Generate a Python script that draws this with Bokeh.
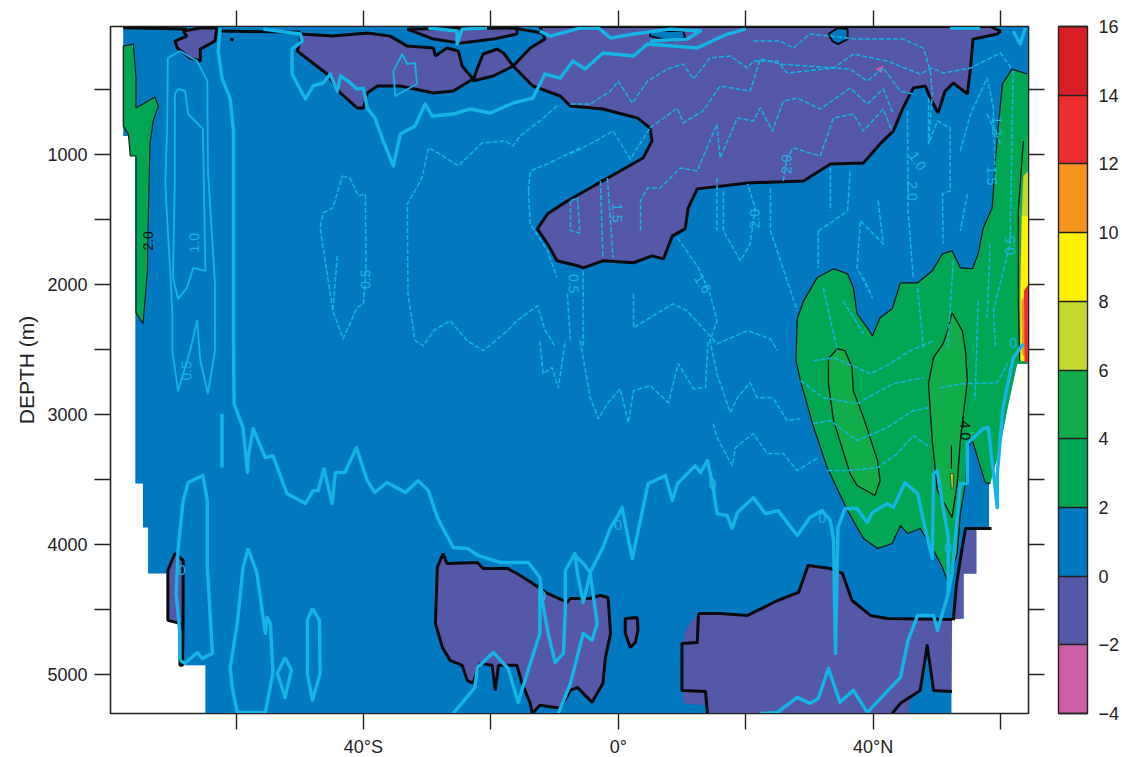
from bokeh.plotting import figure
from bokeh.models import (Range1d, FixedTicker, LinearAxis, ColorBar, LinearColorMapper,
                          ColumnDataSource)
from bokeh.core.properties import value
from bokeh.embed import file_html
from bokeh.resources import INLINE

# ---- scale ----
LEVELS = [-4, -2, 0, 2, 4, 6, 8, 10, 12, 14, 16]
PALETTE = ["#CC5FA5", "#5558A6", "#0079C1", "#00A651", "#12AD4B",
           "#C4D82E", "#FFF200", "#F7941E", "#EE2D30", "#D81F26"]
LAT_TICKS = [-60, -40, -20, 0, 20, 40, 60]
LAT_LABELS = {-60: "", -40: "40°S", -20: "", 0: "0°", 20: "", 40: "40°N", 60: ""}
DEPTH_TICKS = [500, 1000, 1500, 2000, 2500, 3000, 3500, 4000, 4500, 5000]
DEPTH_LABELS = {500: "", 1000: "1000", 1500: "", 2000: "2000", 2500: "", 3000: "3000",
                3500: "", 4000: "4000", 4500: "", 5000: "5000"}

# ---- filled regions (latitude, depth m) ----
ocean = [(-77.7,15),(64.4,15),(64.4,2611),(62.6,2611),(61.1,2950),(59.7,3303),(58.2,3534),(58.2,3872),
         (56.2,3872),(56.2,4226),(54.2,4226),(54.2,4572),(52.3,4572),(52.3,5304),(-64.8,5304),(-64.8,4933),
         (-68.8,4933),(-68.8,4587),(-70.3,4587),(-70.3,4226),(-73.8,4226),(-73.8,3872),(-74.6,3872),
         (-74.6,3534),(-75.8,3534),(-75.8,858),(-77.7,858)]
green_left = [(-77.7,166),(-76.1,150),(-75.7,412),(-75.7,642),(-72.7,558),(-72.2,627),(-73,742),(-73.5,919),
              (-73.8,1534),(-73.9,1896),(-74.6,2303),(-75.7,2219),(-75.7,1012),(-76.6,1012),(-76.9,842),(-77.7,781)]
purple_a = [(-68.3,50),(-65.6,27),(-63,27),(-63.3,127),(-65.6,189),(-65.6,281),(-67.2,258),(-69.2,181),(-69.6,127),(-67.7,89)]
purple_b = [(-49.9,73),(-44.8,89),(-39.4,65),(-35.8,89),(-33.1,166),(-29,181),(-28.7,242),(-26.9,181),(-25.1,204),
            (-24.5,319),(-22.8,419),(-25.9,512),(-29,527),(-34.2,473),(-37.8,473),(-39.4,527),(-40,642),(-41,642),
            (-43.6,527),(-45.7,381),(-50.4,204),(-49.9,127)]
purple_c = [(-22.8,435),(-22.1,335),(-21.2,227),(-19,189),(-18,219),(-16.5,319),(-19.6,396)]
purple_d = [(-33.1,35),(-29,112),(-24.8,143),(-19.6,112),(-15.9,73),(-15.9,27)]
purple_main = [(-16.5,319),(-13.8,181),(-11.5,112),(-12.3,15),(58.4,15),(60,50),(59.5,73),(55.7,112),(55.3,335),
               (54.8,535),(52.6,450),(51.3,512),(50.2,681),(49,566),(48.2,473),(46.3,489),(44.7,642),(43.2,819),
               (41.1,919),(38.5,1065),(33.3,1073),(29.1,1204),(20.3,1219),(12.4,1265),(11,1411),(10.5,1573),
               (8.5,1627),(7.1,1804),(5.3,1781),(2.4,1834),(-2.4,1819),(-5.5,1873),(-6.4,1857),(-9.6,1819),
               (-11.1,1688),(-12.7,1573),(-11.1,1457),(-8,1358),(-3.3,1227),(0.3,1127),(3.9,1027),(5.3,896),
               (5,796),(3,719),(-2.4,650),(-7.5,627),(-9.1,550),(-13.4,473)]
blue_lens = [(5,50),(10.2,50),(10.5,104),(8.2,127),(5,89)]
blue_dot = [(33,73),(34.4,27),(36,35),(36,112),(34.5,150),(33.6,127)]
pink_spot = [(40.3,343),(41.6,319),(41.4,373)]
purple_bottom = [(-27.5,4072),(-28.4,4180),(-28.7,4610),(-27.6,4795),(-26.4,4895),(-24.5,4933),(-23.7,5049),(-22.8,5072),
                 (-21.7,4918),(-19.8,4933),(-19.3,5126),(-18.8,4933),(-15.9,4933),(-15.1,5072),(-13.8,5226),(-13.5,5304),
                 (-12.3,5241),(-9.1,5264),(-7.5,5126),(-6.4,5103),(-4.1,5218),(-2.4,5072),(-2,4872),(-1.2,4687),
                 (-1.6,4411),(-2.8,4395),(-4.4,4418),(-7.5,4418),(-8,4449),(-11.1,4380),(-13.4,4303),(-15.9,4226),
                 (-17.4,4188),(-21.2,4188),(-22.1,4141),(-26.9,4149)]
purple_sliver = [(-70.7,4587),(-70.7,4203),(-69.6,4072),(-68.3,4126),(-68.3,4587),(-68.4,4933),(-68.8,4933),(-68.8,4610)]
purple_small = [(1.1,4572),(3,4565),(3.1,4664),(2.7,4757),(1.9,4795),(1.1,4687)]
purple_br_top = [(12.6,4534),(16,4534),(20.3,4549),(25,4434),(28.3,4372),(29.8,4165),(33.3,4188),(35.2,4226),
                 (36.7,4434),(39.6,4549),(42.2,4572),(52.4,4580)]
purple_br_rest = [(52.3,5134),(49.5,5134),(48.5,4780),(47.4,5126),(45.8,5203),(45.5,5304),(14,5304),(13.7,5241),
                  (10.2,5226),(10.4,4687),(11.3,4610)]
purple_stairs = [(54.8,3895),(56.2,3895),(56.2,4226),(54.2,4226),(54.2,4572),(52.4,4580),(53.1,4303),(54,4026)]
green_edge_a = [(28.1,2265),(29.1,2127),(31.2,1950),(33.8,1880),(36,1919),(36.9,2027),(37.5,2227),(39.1,2334),
                (39.9,2396),(41.1,2257),(43,2188),(44.3,1988),(47,1988),(49.3,1896),(50.9,1765),(52.4,1742),
                (53.7,1873),(55.6,1880),(56.5,1765),(57.3,1565),(58.7,1411),(59.2,1050),(59.7,765),(60.3,458),
                (61.8,343),(64.2,381)]
green_wall = [(64.4,381),(64.4,2611),(62.6,2611),(61.1,2950),(59.7,3303)]
green_edge_b = [(58.4,3534),(57.6,3526),(55.6,3203),(54.8,3257),(54.5,3534),(53.7,3765),(53.2,4072),(51.8,4303),
                (50.9,4180),(49.5,4049),(47.4,3880),(45.4,3918),(44.3,3857),(43,3995),(40.7,4034),(38.5,3957),
                (36,3742),(32.8,3411),(30.5,3073),(28.6,2742),(27.9,2588)]
lobe_a = [(34.4,2496),(35.6,2511),(36.7,2642),(36.9,2819),(38.5,3026),(40.7,3357),(41.1,3511),(40.3,3626),(37.5,3549),
          (36.4,3457),(33.8,3049),(33,2765),(33,2573)]
lobe_b = [(52.4,2219),(54,2357),(54.5,2511),(54.8,2742),(53.7,3203),(53.2,3534),(52.4,3795),(50.1,3588),(49.3,3203),
          (48.7,2765),(49.5,2565),(51,2457),(51.7,2357)]
yellow_spot = [(52.1,3457),(52.6,3457),(52.6,3565),(52.3,3572)]
wall_4 = [(63.6,896),(64.4,819),(64.4,2588),(62.8,2588),(62.8,2127),(62.8,1434)]
wall_6 = [(63.6,1165),(64.4,1127),(64.4,2588),(63.1,2588),(63.1,2050),(63.3,1511)]
wall_8 = [(63.4,1473),(64.4,1473),(64.4,2588),(63.2,2588),(63.2,2050)]
wall_10 = [(63.3,2127),(64.4,2050),(64.4,2588),(63.4,2540)]
wall_12 = [(63.7,2050),(64.4,2000),(64.4,2600),(63.8,2600)]

# ---- black contour pieces that are not region outlines ----
black_thick = [
    [(-77.7,25),(-67.7,35)], [(-62.5,50),(-49.9,60)], [(-60.9,110),(-60.4,120)], [(-15.9,30),(-11.5,70)],
    [(12.6,4534),(12.4,4757),(10,4765),(10,5126),(13.7,5134),(14,5304)],
    [(43,5304),(44.3,5226),(47.4,5126),(48.5,4780),(49.5,5126),(52.4,5134)],
    [(58.6,3880),(54.5,3880),(54,4026),(53.1,4303),(52.6,4587)],
]
black_thin = [[(63.6,896),(62.8,1434),(62.8,2127),(63,2588)], [(52.3,3240),(52.3,3420)]]

# ---- cyan contours ----
zero_a = [(-62.5,27),(-62.8,204),(-62.2,412),(-60.9,573),(-60.4,819),(-60.4,1950),(-60.4,2434),(-60.3,2919),(-58.9,3103),
          (-58.2,3449),(-58.1,3334),(-57.3,3111),(-55.4,3334),(-54.2,3319),(-52,3611),(-49.1,3688),(-47.9,3588),(-47.1,3588),
          (-46.2,3419),(-44.9,3688),(-44.4,3449),(-42.9,3449),(-41.1,3257),(-39.4,3511),(-38.2,3603),(-36.3,3526),(-33.4,3603),
          (-31.4,3511),(-29.8,3588),(-28.4,3795),(-25.9,4026),(-23.6,4034),(-22,4088),(-18.5,4141),(-14.1,4141),(-12.3,4257),(-11.9,4434)]
zero_b = [(-7.1,4072),(-5.5,4149),(-4.4,4218),(-2.4,4026),(-1.2,3872),(-0.2,3795),(0.6,3719),(2.2,4111),(4.7,3534),(7.4,3472),
          (8.5,3665),(9.3,3534),(12.1,3396),(12.9,3449),(14,3357),(14.8,3534),(15.5,3765),(17.1,3780),(17.9,3880),(18.7,3757),
          (21.2,3642),(23.1,3765),(25.1,3742),(28.1,3934),(30.1,3795),(32,3742),(33.3,3819),(33.8,3972),(34.1,4841),(34.5,3872),
          (35.6,3726),(37.5,3726),(39.1,3834),(39.9,3757),(42.2,3688),(43.2,3719),(45,3526),(47,3611),(47.9,3819),(49.3,4111),
          (49.5,3457),(50.1,3434),(51,3719),(51.8,3949),(51.8,4380),(50.1,4664),(49.5,4549),(47,4549),(45.5,4741),(44.3,5026),(39.1,5295)]
zero_c = [(22.3,5304),(25,5295),(28.1,5180),(30.1,5226),(31.4,5188),(33,4957),(34.8,5218),(36.9,5126),(39.1,5295)]
zero_d = [(51.8,4380),(52.4,4226),(53.7,3534),(54.8,3534),(54.8,3226),(57.3,3111),(58.1,3103),(59.5,3719),(59.5,3457),
          (60.4,2950),(62,2565),(63.6,2457)]
zero_e = [(-55.7,35),(-49.9,73),(-49.6,127),(-51.2,189),(-51.2,381),(-49.1,573),(-47.9,473),(-46.3,450),(-45.2,381),(-44.1,512),
          (-43.6,396),(-42.4,435),(-41,496),(-40,489),(-39.4,642),(-38.2,719),(-36.9,896),(-35.3,1088),(-34.2,842),(-31.9,781),
          (-30.3,612),(-29.2,704),(-25.9,689),(-23.2,650),(-20.1,681),(-16.5,604),(-13.4,566),(-11.5,381),(-9.1,412),(-7.1,281),
          (-5.2,343),(-2.4,219),(2.4,242),(4.6,150),(12.4,181),(17.1,73),(20,35)]
zero_f = [(-29.8,27),(-25.3,50),(-25.3,150),(-24.5,35),(-20.6,27)]
zero_g = [(-12.3,50),(-10.7,89),(-6,27),(-3.1,27),(-1.2,104),(2.4,73),(8.2,35),(12.9,50),(10.8,112),(5,127)]
zero_h = [(52.1,27),(56.8,27)]
zero_i = [(62,50),(63.1,150),(63.9,27)]
zero_j = [(-62.2,2996),(-62.2,3411)]
zero_k = [(-68.8,4895),(-68.8,4687),(-69.4,4380),(-69.1,4049),(-68.3,3665),(-67.5,3526),(-65.2,3472),(-64.5,3665),(-64.5,4180),
          (-63.7,4841),(-65.3,4880),(-66.1,4834),(-68,4918),(-68.8,4895)]
zero_l = [(-58.1,4034),(-56.7,4226),(-55.4,4687),(-55.1,4565),(-54.6,4610),(-54.2,4995),(-55.4,5295),(-59.8,5295),(-60.6,5103),
          (-60.9,4949),(-59.8,4610),(-58.9,4180),(-58.1,4034)]
zero_m = [(-52.3,4872),(-51.3,4972),(-52.3,5180),(-53.5,4995),(-52.3,4872)]
zero_n = [(-48,4495),(-46.9,4587),(-46.8,4995),(-48,5203),(-48.8,4995),(-48.8,4587),(-48,4495)]
zero_o = [(-25.9,5304),(-22.5,5103),(-22.1,4949),(-19.6,4834),(-17.3,4957),(-15.7,5218),(-14.3,4995),(-12.3,4687),(-12.3,4334),
          (-11,4687),(-9.9,4910),(-8.6,4841),(-8.3,4488),(-8.3,4203),(-6.8,4072),(-6.4,4226),(-5.5,4449),(-4.4,4226),(-3.3,4610),
          (-4.1,4741),(-5.5,4687),(-7.5,5072),(-9.4,5304)]
solid_a = [(-68.8,204),(-66.1,281),(-64.5,435),(-64.4,1127),(-63.3,1996),(-63.3,2511),(-64.4,2842),(-65.6,2588),(-66.1,2280),
           (-67.2,2511),(-69.1,2819),(-70,2511),(-70,2203),(-71.1,1227),(-70.8,796),(-70.7,258),(-68.8,204)]
solid_b = [(-69.1,496),(-68,512),(-67.5,689),(-65.2,804),(-64.8,1896),(-66.7,1873),(-67.7,2027),(-69.1,2111),(-69.9,1950),
           (-69.6,1181),(-69.6,535),(-69.1,496)]
solid_c = [(-35.3,358),(-33.9,227),(-33.1,304),(-31.9,296),(-31.6,458),(-35,550),(-35.3,358)]

dash_lines = [
    [(-43.3,1165),(-42.1,1181),(-40.8,1319),(-39.7,1304),(-39.6,1896),(-40,2150),(-41,2180),(-43.2,2419),(-44.8,2203),(-46.8,1565),(-46.3,1450),(-44.8,1411),(-43.3,1165)],
    [(-44.1,1781),(-44.8,2203)],
    [(-9.6,627),(-12.3,742),(-15.4,858),(-16.5,935),(-17.7,896),(-21.4,912),(-25.1,1088),(-28.3,988),(-29.8,950),(-30.8,1181),(-33.1,1381),(-33,2073),(-31.9,2434),(-30.6,2473),(-29,2357),(-26.4,2280),(-23.7,2434),(-21.2,2511),(-17.4,2357),(-15.9,2280),(-12.7,2165),(-11.5,2350),(-9.9,2480)],
    [(21.2,127),(25.4,127),(27.5,181),(30.1,73),(37.5,112),(44.7,112),(47.9,181),(49,358),(49.3,535),(48.7,919)],
    [(-7.5,612),(-4.4,612),(-1.2,512),(0,435),(2.2,604),(4.6,435),(7.7,343),(10.2,304),(11.8,419),(14.4,258),(17.6,242),(20.3,335),(21.2,281),(25,281),(26.5,373),(33.8,335),(36.9,227),(42.2,281),(47.4,381),(49.3,335),(51,373),(55.3,335),(60,219),(61.8,343)],
    [(5,796),(9.3,642),(10.2,758),(13.3,665),(16,473),(18.7,496),(20.7,512),(22.3,265),(25.4,304),(36.4,343),(39.1,435),(41.6,335),(44.3,512),(46.3,535)],
    [(3.5,1588),(3.5,1358),(4.6,1258),(6.6,1258),(9.7,1104),(12.4,1127),(15.5,765),(16,1027),(18.7,719),(21.2,742),(22.3,642),(24.2,819),(25.9,589),(28.1,566),(31.7,650),(36.4,489),(39.1,612),(41.6,496),(43.2,689)],
    [(25.9,1204),(26.5,1027),(27.5,950),(31.7,1012),(33.8,719),(36.9,689),(38.5,819),(41.6,650),(43,819)],
    [(45.4,665),(45.5,1434),(46.3,1950)],
    [(48.7,566),(48.7,919),(50.1,742),(52.1,796),(52.1,1281),(50.9,1304),(51,1688)],
    [(53.7,973),(55.3,689),(57.9,412),(58.9,642),(59.2,1227)],
    [(57.9,689),(60,919)],
    [(54.8,1304),(53.7,1588)],
    [(40.8,1358),(41.6,1688),(38,1511),(37.5,1873),(39.9,2104),(38.5,1950)],
    [(31.4,1588),(33.8,1511),(36,1434),(36.4,1127)],
    [(33.3,1104),(33.3,1434)],
    [(31.4,1588),(31.4,1873)],
    [(23.9,1258),(23.9,1588),(28.1,2203)],
    [(16.5,1281),(16.5,1588),(19.2,1819),(20.7,1688),(21.5,1411),(20.3,1227)],
    [(15.5,1181),(15.5,1588)],
    [(9.3,1642),(12.6,1873),(14.4,2073),(15.5,2280),(14.4,2434),(15.5,2688),(17.6,2988),(18.7,2873),(20.7,2757),(21.8,2873),(24.3,2873),(26.5,3049),(28.6,3034)],
    [(14.9,3073),(15.5,3180),(17.9,3396),(18.4,3257),(21.2,3149),(23.4,3303),(25.9,3303),(28.1,3434),(31.4,3334)],
    [(-6,2434),(-4.4,2873),(-3.1,3034),(-1.7,2919),(0.3,2803),(1.6,3065),(2.4,2819),(5,2780),(7.9,2911),(9.4,2611),(11.8,2803),(13.7,2796),(14.1,2434)],
    [(2.4,2073),(2.4,2334),(8.6,2150),(10.8,2203),(15.5,2457),(20.3,2357),(23.9,2419),(25,2511)],
    [(-5.5,1896),(-5.5,2488)],
    [(-7.5,1358),(-7.5,1588),(-6,1604),(-6.4,1334),(-7.5,1358)],
    [(-1.7,1181),(-0.8,1796)],
    [(-2.8,1204),(-2.4,1796)],
    [(-7.5,996),(-4.4,919),(-0.8,819),(1.9,1035),(5,796)],
    [(-14.1,1281),(-13.8,1127),(-11.1,1073),(-6,950)],
    [(-14.1,1281),(-13.8,1534),(-11.1,1742),(-9.6,1950)],
    [(-8,2073),(-7.5,2434)],
    [(-12.3,2434),(-11.8,2688),(-10.4,2640),(-9.4,2796),(-8.3,2434)],
    [(28.6,2742),(32.2,2873),(37.5,2919),(41.1,2819),(43.2,2765),(47.9,2719)],
    [(30.6,3073),(33.3,3049),(37.5,3203),(42.2,3103),(46.3,2973),(48.7,2950)],
    [(32.8,3434),(36,3434),(40.7,3411),(43.8,3303),(46.3,3165),(49,3257)],
    [(30.6,2588),(33.8,2565),(39.6,2688),(42.7,2611),(45.8,2511),(49.5,2434)],
    [(50.5,2796),(54.2,2765),(59.5,2757),(61.1,2611)],
    [(32.2,2027),(34.4,2511)],
    [(35.3,2127),(38.5,2380)],
    [(47,2027),(47.9,2488)],
    [(52.6,1819),(51.7,2488)],
    [(58.4,1688),(57.9,2257)],
    [(62,358),(61.5,1688),(58.9,2203),(59.2,2473)],
    [(56.5,2127),(56,2896)],
]

# ---- contour labels ----
label_lat = [-73.8,-66.6,-39.7,-67.8,-0.1,26.4,21.4,13.3,-7,59.5,58.7,47,46.2,61.5,54.5,14.8,0,32,51.8,-68.5,-11.9,62]
label_depth = [1665,1680,1960,2665,1450,1075,1495,1995,1995,780,1165,1050,1281,1700,3125,3540,3850,3800,4030,4200,4400,2450]
label_text = ["2.0","1.0","0.5","0.5","1.5","2.0","2.0","1.6","0.5","1.2","1.5","1.0","2.0","0.5","4.0","0","0","0","0","0","0","0"]
label_color = ["#111111","#1CB5E3","#1CB5E3","#1CB5E3","#1CB5E3","#1CB5E3","#1CB5E3","#1CB5E3","#1CB5E3","#1CB5E3","#1CB5E3",
               "#1CB5E3","#1CB5E3","#1CB5E3","#111111","#1CB5E3","#1CB5E3","#1CB5E3","#1CB5E3","#1CB5E3","#1CB5E3","#1CB5E3"]
label_angle = [1.57,1.57,1.57,1.57,-1.57,1.57,1.57,-1.0,-1.57,-1.57,-1.57,-1.0,-1.57,1.57,-1.57,0,0,0,0,0,0,0]

CYAN = "#12B5E5"
FONT = "Liberation Sans"
PURPLE, BLUE, GREEN2, GREEN4 = PALETTE[1], PALETTE[2], PALETTE[3], PALETTE[4]

p = figure(width=1120, height=756, frame_width=918, frame_height=687, output_backend="svg",
           toolbar_location=None, x_range=Range1d(-79.7, 64.4), y_range=Range1d(5304, 15),
           x_axis_location="below", y_axis_location="left",
           min_border_left=110, min_border_top=26, min_border_right=92, min_border_bottom=43,
           background_fill_color="white", border_fill_color="white")
p.grid.visible = False
p.outline_line_color = "#222222"
p.outline_line_width = 1.6


def xy(points):
    return [a for a, _ in points], [b for _, b in points]


def fill(points, color, line=None, width=1.0):
    x, y = xy(points)
    p.patch(x, y, fill_color=color, line_color=line or color, line_width=width if line else 0.1)


def path(points, color, width, dash="solid"):
    x, y = xy(points)
    p.line(x, y, line_color=color, line_width=width, line_dash=dash, line_join="round")


fill(ocean, BLUE)
fill(green_left, GREEN2, "#111111", 1.1)
for reg in (purple_a, purple_b, purple_c, purple_d, purple_main, purple_bottom, purple_sliver, purple_small):
    fill(reg, PURPLE, "#0A0A0A", 3.0)
fill(blue_lens, BLUE, "#0A0A0A", 2.0)
fill(blue_dot, BLUE, "#0A0A0A", 2.0)
fill(pink_spot, PALETTE[0])
fill(purple_br_top + purple_br_rest, PURPLE)
fill(purple_stairs, PURPLE)
path(purple_br_top, "#0A0A0A", 3.0)
fill(green_edge_a + green_wall + green_edge_b, GREEN2)
path(green_edge_a, "#111111", 1.2)
path(green_edge_b, "#111111", 1.2)
path([green_edge_b[-1], green_edge_a[0]], "#111111", 1.2)
for lobe in (lobe_a, lobe_b):
    fill(lobe, GREEN4, "#111111", 1.3)
fill(yellow_spot, PALETTE[5], "#111111", 0.6)
fill(wall_4, GREEN4)
fill(wall_6, PALETTE[5])
fill(wall_8, PALETTE[6])
fill(wall_10, PALETTE[7])
fill(wall_12, PALETTE[8])
for piece in black_thick:
    path(piece, "#0A0A0A", 3.0)
for piece in black_thin:
    path(piece, "#111111", 1.2)
for piece in dash_lines:
    path(piece, CYAN, 1.5, "5 2")
for piece in (solid_a, solid_b, solid_c):
    path(piece, CYAN, 1.8)
for piece in (zero_a, zero_b, zero_c, zero_d, zero_e, zero_f, zero_g, zero_h, zero_i, zero_j,
              zero_k, zero_l, zero_m, zero_n, zero_o):
    path(piece, CYAN, 3.4)

src = ColumnDataSource(dict(x=label_lat, y=label_depth, t=label_text, c=label_color, a=label_angle))
p.text("x", "y", text="t", source=src, text_color="c", angle="a", text_font=value(FONT),
       text_font_size="14px", text_align="center", text_baseline="middle")

# ---- axes ----
bottom = p.below[0]
left = p.left[0]
bottom.ticker = FixedTicker(ticks=LAT_TICKS)
bottom.major_label_overrides = LAT_LABELS
left.ticker = FixedTicker(ticks=DEPTH_TICKS)
left.major_label_overrides = DEPTH_LABELS
left.axis_label = "DEPTH (m)"
left.axis_label_text_font = FONT
left.axis_label_text_font_size = "21px"
left.axis_label_text_font_style = "normal"
left.axis_label_text_color = "#222222"
left.axis_label_standoff = 6

top = LinearAxis(ticker=FixedTicker(ticks=LAT_TICKS), major_label_overrides={k: "" for k in LAT_TICKS})
right = LinearAxis(ticker=FixedTicker(ticks=DEPTH_TICKS), major_label_overrides={k: "" for k in DEPTH_TICKS})
p.add_layout(top, "above")
p.add_layout(right, "right")
for ax in (bottom, left, top, right):
    ax.major_tick_out = 16
    ax.major_tick_in = 0
    ax.minor_tick_line_color = None
    ax.major_tick_line_color = "#222222"
    ax.major_tick_line_width = 1.4
    ax.axis_line_color = "#222222"
    ax.major_label_text_font = FONT
    ax.major_label_text_font_size = "18px"
    ax.major_label_text_color = "#222222"
    ax.major_label_standoff = 7

mapper = LinearColorMapper(palette=PALETTE, low=LEVELS[0], high=LEVELS[-1])
cb = ColorBar(color_mapper=mapper, ticker=FixedTicker(ticks=LEVELS), width=29, height=687,
              padding=0, margin=0, location=(14, 0), bar_line_color="#222222", bar_line_width=1.4,
              major_tick_line_color="#222222", major_tick_line_width=1.4, major_tick_in=29, major_tick_out=0,
              major_label_text_font=FONT, major_label_text_font_size="18px", major_label_text_color="#222222",
              label_standoff=11, minor_tick_line_color=None, background_fill_color=None, border_line_color=None)
p.add_layout(cb, "right")

open("out.html", "w").write(file_html(p, INLINE))
